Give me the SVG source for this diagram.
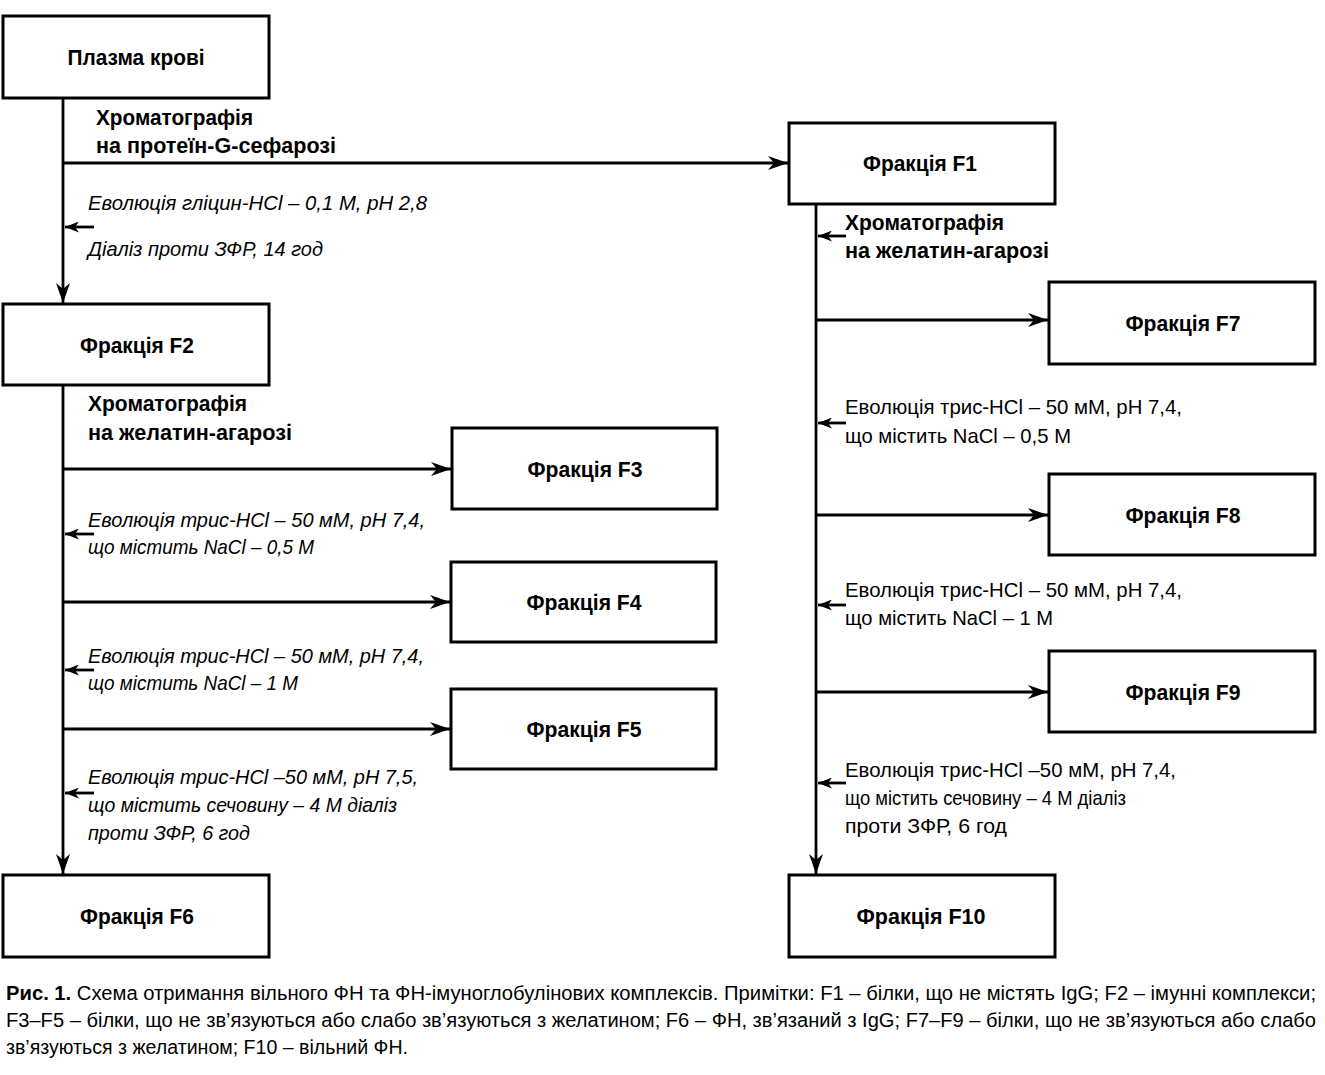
<svg xmlns="http://www.w3.org/2000/svg" width="1325" height="1075" viewBox="0 0 1325 1075">
<style>
.box{fill:#fff;stroke:#000;stroke-width:3}
.ln{fill:none;stroke:#000;stroke-width:2.8}
.lbl{font-family:"Liberation Sans Narrow","Liberation Sans",Arial,sans-serif;font-weight:bold;font-size:22.5px;fill:#000;text-anchor:middle}
.hd{font-family:"Liberation Sans Narrow","Liberation Sans",Arial,sans-serif;font-weight:bold;font-size:22.5px;fill:#000}
.it{font-family:"Liberation Sans Narrow","Liberation Sans",Arial,sans-serif;font-style:italic;font-size:21px;fill:#000}
.up{font-family:"Liberation Sans Narrow","Liberation Sans",Arial,sans-serif;font-size:21px;fill:#000}
.cap{font-family:"Liberation Sans Narrow","Liberation Sans",Arial,sans-serif;font-size:20px;fill:#000}
</style>
<defs>
<marker id="big" viewBox="0 0 20 14" refX="20" refY="7" markerWidth="20" markerHeight="14" markerUnits="userSpaceOnUse" orient="auto">
<path d="M0,0 L20,7 L0,14 L6,7 Z" fill="#000"/>
</marker>
<marker id="sm" viewBox="0 0 14 11" refX="14" refY="5.5" markerWidth="14" markerHeight="11" markerUnits="userSpaceOnUse" orient="auto">
<path d="M0,0 L14,5.5 L0,11 L4,5.5 Z" fill="#000"/>
</marker>
</defs>
<rect width="1325" height="1075" fill="#fff"/>

<g id="connectors">
<line class="ln" x1="63" y1="98" x2="63" y2="303" marker-end="url(#big)"/>
<line class="ln" x1="63" y1="163" x2="788" y2="163" marker-end="url(#big)"/>
<line class="ln" x1="94" y1="227" x2="65" y2="227" marker-end="url(#sm)"/>
<line class="ln" x1="63" y1="385" x2="63" y2="874" marker-end="url(#big)"/>
<line class="ln" x1="63" y1="469" x2="451" y2="469" marker-end="url(#big)"/>
<line class="ln" x1="94" y1="534" x2="65" y2="534" marker-end="url(#sm)"/>
<line class="ln" x1="63" y1="602" x2="450" y2="602" marker-end="url(#big)"/>
<line class="ln" x1="94" y1="670" x2="65" y2="670" marker-end="url(#sm)"/>
<line class="ln" x1="63" y1="729" x2="450" y2="729" marker-end="url(#big)"/>
<line class="ln" x1="94" y1="793" x2="65" y2="793" marker-end="url(#sm)"/>
<line class="ln" x1="816" y1="204" x2="816" y2="874" marker-end="url(#big)"/>
<line class="ln" x1="846" y1="236" x2="818" y2="236" marker-end="url(#sm)"/>
<line class="ln" x1="816" y1="320" x2="1048" y2="320" marker-end="url(#big)"/>
<line class="ln" x1="846" y1="423" x2="818" y2="423" marker-end="url(#sm)"/>
<line class="ln" x1="816" y1="515" x2="1048" y2="515" marker-end="url(#big)"/>
<line class="ln" x1="846" y1="605" x2="818" y2="605" marker-end="url(#sm)"/>
<line class="ln" x1="816" y1="692" x2="1048" y2="692" marker-end="url(#big)"/>
<line class="ln" x1="846" y1="783" x2="818" y2="783" marker-end="url(#sm)"/>
</g>

<g id="edge-labels">
<text class="hd" x="96" y="125" textLength="157" lengthAdjust="spacingAndGlyphs">Хроматографія</text>
<text class="hd" x="96" y="153" textLength="240" lengthAdjust="spacingAndGlyphs">на протеїн-G-сефарозі</text>
<text class="it" x="88" y="210" textLength="339" lengthAdjust="spacingAndGlyphs">Еволюція гліцин-HCl – 0,1 М, рН 2,8</text>
<text class="it" x="88" y="256" textLength="235" lengthAdjust="spacingAndGlyphs">Діаліз проти ЗФР, 14 год</text>

<text class="hd" x="88" y="411" textLength="159" lengthAdjust="spacingAndGlyphs">Хроматографія</text>
<text class="hd" x="88" y="440" textLength="204" lengthAdjust="spacingAndGlyphs">на желатин-агарозі</text>
<text class="it" x="88" y="527" textLength="337" lengthAdjust="spacingAndGlyphs">Еволюція трис-HCl – 50 мМ, рН 7,4,</text>
<text class="it" x="88" y="554" textLength="226" lengthAdjust="spacingAndGlyphs">що містить NaCl – 0,5 М</text>
<text class="it" x="88" y="663" textLength="336" lengthAdjust="spacingAndGlyphs">Еволюція трис-HCl – 50 мМ, рН 7,4,</text>
<text class="it" x="88" y="690" textLength="210" lengthAdjust="spacingAndGlyphs">що містить NaCl – 1 М</text>
<text class="it" x="88" y="784" textLength="330" lengthAdjust="spacingAndGlyphs">Еволюція трис-HCl –50 мМ, рН 7,5,</text>
<text class="it" x="88" y="812" textLength="309" lengthAdjust="spacingAndGlyphs">що містить сечовину – 4 М діаліз</text>
<text class="it" x="88" y="840" textLength="162" lengthAdjust="spacingAndGlyphs">проти ЗФР, 6 год</text>

<text class="hd" x="845" y="230" textLength="159" lengthAdjust="spacingAndGlyphs">Хроматографія</text>
<text class="hd" x="845" y="258" textLength="204" lengthAdjust="spacingAndGlyphs">на желатин-агарозі</text>
<text class="up" x="845" y="414" textLength="337" lengthAdjust="spacingAndGlyphs">Еволюція трис-HCl – 50 мМ, рН 7,4,</text>
<text class="up" x="845" y="443" textLength="226" lengthAdjust="spacingAndGlyphs">що містить NaCl – 0,5 М</text>
<text class="up" x="845" y="597" textLength="337" lengthAdjust="spacingAndGlyphs">Еволюція трис-HCl – 50 мМ, рН 7,4,</text>
<text class="up" x="845" y="625" textLength="208" lengthAdjust="spacingAndGlyphs">що містить NaCl – 1 М</text>
<text class="up" x="845" y="777" textLength="331" lengthAdjust="spacingAndGlyphs">Еволюція трис-HCl –50 мМ, рН 7,4,</text>
<text class="up" x="845" y="805" textLength="281" lengthAdjust="spacingAndGlyphs">що містить сечовину – 4 М діаліз</text>
<text class="up" x="845" y="833" textLength="162" lengthAdjust="spacingAndGlyphs">проти ЗФР, 6 год</text>
</g>

<g id="node-plasma"><rect class="box" x="3" y="16" width="266" height="82"/><text class="lbl" x="136" y="65" textLength="137" lengthAdjust="spacingAndGlyphs">Плазма крові</text></g>
<g id="node-f1"><rect class="box" x="789" y="123" width="266" height="81"/><text class="lbl" x="920" y="171" textLength="114" lengthAdjust="spacingAndGlyphs">Фракція F1</text></g>
<g id="node-f2"><rect class="box" x="3" y="304" width="266" height="81"/><text class="lbl" x="137" y="353" textLength="114" lengthAdjust="spacingAndGlyphs">Фракція F2</text></g>
<g id="node-f3"><rect class="box" x="452" y="428" width="265" height="81"/><text class="lbl" x="585" y="477" textLength="115" lengthAdjust="spacingAndGlyphs">Фракція F3</text></g>
<g id="node-f4"><rect class="box" x="451" y="562" width="265" height="80"/><text class="lbl" x="584" y="610" textLength="115" lengthAdjust="spacingAndGlyphs">Фракція F4</text></g>
<g id="node-f5"><rect class="box" x="451" y="689" width="265" height="80"/><text class="lbl" x="584" y="737" textLength="115" lengthAdjust="spacingAndGlyphs">Фракція F5</text></g>
<g id="node-f6"><rect class="box" x="3" y="875" width="266" height="82"/><text class="lbl" x="137" y="924" textLength="114" lengthAdjust="spacingAndGlyphs">Фракція F6</text></g>
<g id="node-f7"><rect class="box" x="1049" y="282" width="266" height="82"/><text class="lbl" x="1183" y="331" textLength="115" lengthAdjust="spacingAndGlyphs">Фракція F7</text></g>
<g id="node-f8"><rect class="box" x="1049" y="474" width="266" height="81"/><text class="lbl" x="1183" y="523" textLength="115" lengthAdjust="spacingAndGlyphs">Фракція F8</text></g>
<g id="node-f9"><rect class="box" x="1049" y="651" width="266" height="81"/><text class="lbl" x="1183" y="700" textLength="115" lengthAdjust="spacingAndGlyphs">Фракція F9</text></g>
<g id="node-f10"><rect class="box" x="789" y="875" width="266" height="82"/><text class="lbl" x="921" y="924" textLength="129" lengthAdjust="spacingAndGlyphs">Фракція F10</text></g>

<g id="caption">
<text class="cap" x="6" y="1000" textLength="1310" lengthAdjust="spacingAndGlyphs"><tspan font-weight="bold">Рис. 1.</tspan> Схема отримання вільного ФН та ФН-імуноглобулінових комплексів. Примітки: F1 – білки, що не містять IgG; F2 – імунні комплекси;</text>
<text class="cap" x="6" y="1027" textLength="1310" lengthAdjust="spacingAndGlyphs">F3–F5 – білки, що не зв’язуються або слабо зв’язуються з желатином; F6 – ФН, зв’язаний з IgG; F7–F9 – білки, що не зв’язуються або слабо</text>
<text class="cap" x="6" y="1054" textLength="402" lengthAdjust="spacingAndGlyphs">зв’язуються з желатином; F10 – вільний ФН.</text>
</g>
</svg>
